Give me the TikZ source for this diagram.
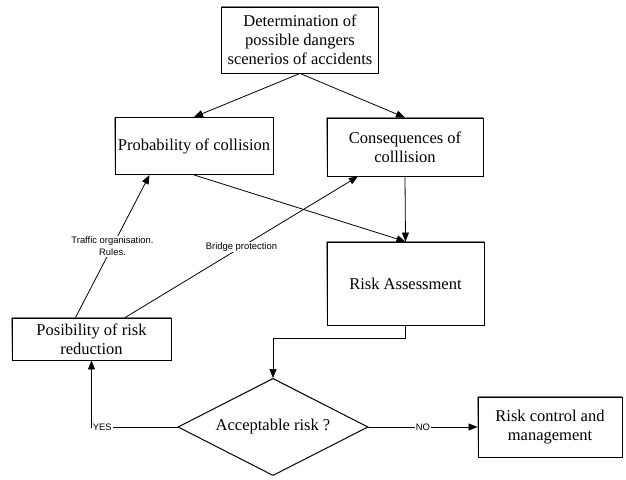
\documentclass[tikz,border=0pt]{standalone}
\usepackage{fontspec}
\setmainfont{Liberation Serif}
\newfontfamily\notefont{Liberation Sans}
\usetikzlibrary{arrows.meta,positioning,calc,shapes.geometric,backgrounds}
\definecolor{shade}{RGB}{220,220,220}
\tikzset{
  stage/.style={draw=black,line width=0.9pt,fill=white,align=center,
    font=\fontsize{16.5}{19}\selectfont,inner sep=2pt},
  decision/.style={stage,diamond,aspect=1.96,inner sep=0pt},
  flow/.style={line width=0.8pt,-{Triangle[length=9pt,width=7pt]}},
  note/.style={font=\notefont\fontsize{9.4}{12}\selectfont,align=center,
    fill=white,inner sep=1pt}
}
\begin{document}
\begin{tikzpicture}[x=1pt,y=-1pt]
  \useasboundingbox (0,0) rectangle (626,479);
  % stages
  \node[stage,minimum width=157pt,minimum height=66pt] (scen) at (300,40)
    {Determination of\\possible dangers\\scenerios of accidents};
  \node[stage,minimum width=158pt,minimum height=57pt] (prob) at (194,146)
    {Probability of collision};
  \node[stage,minimum width=156pt,minimum height=58pt] (cons) at (405,147)
    {Consequences of\\colllision};
  \node[stage,minimum width=157pt,minimum height=83pt] (risk) at (405.5,283.5)
    {Risk Assessment};
  \node[stage,minimum width=159pt,minimum height=42pt] (posib) at (91.5,339)
    {Posibility of risk\\reduction};
  \node[decision,minimum width=190pt,minimum height=97pt] (accept) at (273,427)
    {Acceptable risk ?};
  \node[stage,minimum width=144pt,minimum height=60pt] (ctrl) at (550,427)
    {Risk control and\\management};
  % shadows
  \begin{scope}[on background layer,shift={(4,4)}]
    \foreach \n in {scen,prob,cons,risk,posib,ctrl}
      \fill[shade] (\n.north west) rectangle (\n.south east);
    \fill[shade] (accept.north) -- (accept.east) -- (accept.south)
      -- (accept.west) -- cycle;
  \end{scope}
  % attachment points
  \coordinate (posibA) at ($(posib.north west)!0.40!(posib.north east)$);
  \coordinate (posibB) at ($(posib.north west)!0.71!(posib.north east)$);
  \coordinate (probA) at ($(prob.south west)!0.22!(prob.south east)$);
  \coordinate (consA) at ($(cons.south west)!0.20!(cons.south east)$);
  % connectors
  \draw[flow] (scen.south) -- (prob.north);
  \draw[flow] (scen.south) -- (cons.north);
  \draw[flow] (prob.south) -- (risk.north);
  \draw[flow] (cons.south) -- (risk.north);
  \draw[flow] (posibA) -- node[note]{Traffic organisation.\\Rules.} (probA);
  \draw[flow] (posibB) -- node[note]{Bridge protection} (consA);
  \draw[flow] (risk.south) -- ++(0,13) -| (accept.north);
  \draw[flow] (accept.west) -| node[note,pos=0.5,anchor=west]{YES} (posib.south);
  \draw[flow] (accept.east) -- node[note]{NO} (ctrl.west);
\end{tikzpicture}
\end{document}
